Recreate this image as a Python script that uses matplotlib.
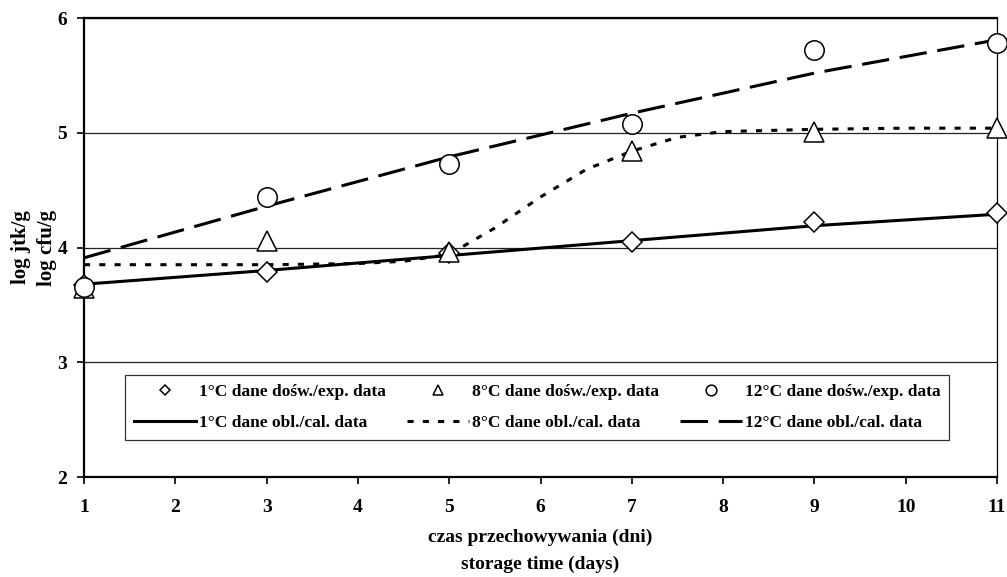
import matplotlib
matplotlib.use("Agg")
import matplotlib.pyplot as plt

# ----- Data -------------------------------------------------

days = [1, 3, 5, 7, 9, 11]

exp_1c = [3.67, 3.79, 3.95, 4.05, 4.22, 4.30]
exp_8c = [3.65, 4.06, 3.96, 4.84, 5.01, 5.04]
exp_12c = [3.66, 4.44, 4.73, 5.08, 5.72, 5.78]

calc_1c = [3.68, 3.80, 3.93, 4.06, 4.19, 4.29]
calc_12c = [3.91, 4.36, 4.79, 5.17, 5.52, 5.81]

# 8 C model curve is S-shaped, read at more points
days_8c = [1, 2, 3, 4, 4.5, 5, 5.5, 6, 6.5, 7, 7.5, 8, 9, 10, 11]
calc_8c = [3.85, 3.85, 3.85, 3.86, 3.88, 3.94, 4.17, 4.44, 4.68, 4.84,
           4.96, 5.01, 5.03, 5.04, 5.04]

labels_exp = ["1°C dane dośw./exp. data", "8°C dane dośw./exp. data",
              "12°C dane dośw./exp. data"]
labels_calc = ["1°C dane obl./cal. data", "8°C dane obl./cal. data",
               "12°C dane obl./cal. data"]

# ----- Plot -------------------------------------------------

plt.rcParams['font.family'] = 'Liberation Serif'
plt.rcParams['font.weight'] = 'bold'

fig = plt.figure(figsize=(10.07, 5.77), dpi=100)
ax = fig.add_axes([0.0834, 0.1733, 0.9067, 0.7955])

l1, = ax.plot(days, calc_1c, color='black', lw=2.2, zorder=3)
l8, = ax.plot(days_8c, calc_8c, color='black', lw=2.2,
              linestyle=(0, (2, 3)), zorder=3)
l12, = ax.plot(days, calc_12c, color='black', lw=2.2,
               linestyle=(0, (9, 3.5)), zorder=3)

mk = dict(linestyle='none', markerfacecolor='white', markeredgecolor='black',
          markeredgewidth=1.1, clip_on=False)
m1, = ax.plot(days, exp_1c, marker='D', markersize=10, zorder=4, **mk)
m8, = ax.plot(days, exp_8c, marker='^', markersize=14, zorder=5, **mk)
m12, = ax.plot(days, exp_12c, marker='o', markersize=14, zorder=6, **mk)

ax.set_xlim(1, 11)
ax.set_ylim(2, 6)
ax.set_xticks(range(1, 12))
ax.set_yticks([2, 3, 4, 5, 6])
ax.yaxis.grid(True, color='#222222', lw=0.9)
ax.set_axisbelow(True)
ax.tick_params(labelsize=14, length=5, width=1.2, direction='out')
ax.tick_params(axis='x', pad=11)
ax.tick_params(axis='y', pad=7)

for side in ['left', 'bottom', 'top']:
    ax.spines[side].set_linewidth(1.6)
ax.spines['right'].set_linewidth(0.9)

ax.set_xlabel("czas przechowywania (dni)\nstorage time (days)", fontsize=14,
              fontweight='bold', linespacing=1.7, labelpad=9)
ax.set_ylabel("log jtk/g\nlog cfu/g", fontsize=15, fontweight='bold',
              linespacing=1.45, labelpad=0)

handles = [m1, l1, m8, l8, m12, l12]
labels = [labels_exp[0], labels_calc[0], labels_exp[1], labels_calc[1],
          labels_exp[2], labels_calc[2]]
leg = ax.legend(handles, labels, ncol=3, loc='center', mode='expand',
                bbox_to_anchor=(0.0449, 0.0763, 0.9025, 0.1503),
                borderaxespad=0, fontsize=12.5, markerscale=0.55,
                handlelength=3.6, handletextpad=0.15, columnspacing=1.0,
                labelspacing=0.85, borderpad=0.5, fancybox=False,
                framealpha=1, edgecolor='#333333')
leg.get_frame().set_linewidth(0.9)

plt.savefig("out.png", dpi=100)
